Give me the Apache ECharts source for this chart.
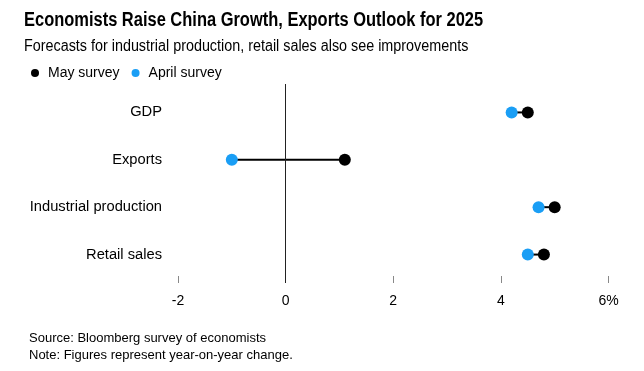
<!DOCTYPE html>
<html>
<head>
<meta charset="utf-8">
<script src="https://cdn.jsdelivr.net/npm/echarts@6/dist/echarts.min.js"></script>
<style>html,body{margin:0;padding:0;background:#fff}#c{width:644px;height:371px}</style>
</head>
<body>
<div id="c"></div>
<script>
const categories = ['GDP', 'Exports', 'Industrial production', 'Retail sales'];
const maySurvey = [4.5, 1.1, 5.0, 4.8];
const aprilSurvey = [4.2, -1.0, 4.7, 4.5];
const xTickValues = [-2, 0, 2, 4, 6];
const titleText = 'Economists Raise China Growth, Exports Outlook for 2025';
const subtitleText = 'Forecasts for industrial production, retail sales also see improvements';
const footerLines = ['Source: Bloomberg survey of economists', 'Note: Figures represent year-on-year change.'];

const FONT = 'Liberation Sans, Arial, sans-serif';
const chart = echarts.init(document.getElementById('c'), null, {renderer: 'canvas'});
chart.setOption({
  animation: false,
  textStyle: {fontFamily: FONT},
  graphic: [
    {type: 'text', x: 24, y: 10, scaleX: 0.823, silent: true,
     style: {text: titleText, fill: '#000', fontSize: 20, fontWeight: 'bold',
             fontFamily: FONT, verticalAlign: 'top', align: 'left'}},
    {type: 'text', x: 24, y: 38.5, scaleX: 0.897, silent: true,
     style: {text: subtitleText, fill: '#000', fontSize: 16, fontWeight: 'normal',
             fontFamily: FONT, verticalAlign: 'top', align: 'left'}}
  ],
  title: [
    {text: footerLines.join('\n'), left: 29, top: 330, padding: 0,
     textStyle: {fontSize: 13, fontWeight: 'normal', color: '#000', lineHeight: 17, fontFamily: FONT}}
  ],
  legend: {
    left: 31, top: 66, padding: 0, itemGap: 12,
    icon: 'circle', itemWidth: 14, itemHeight: 8,
    textStyle: {fontSize: 14, color: '#000', fontFamily: FONT, padding: [0, 0, 0, 1]},
    data: ['May survey', 'April survey'],
    selectedMode: false
  },
  grid: {left: 178, right: 35.5, top: 84, bottom: 88, containLabel: false},
  xAxis: {
    type: 'value', min: -2, max: 6, interval: 2,
    axisLine: {show: false, onZero: false},
    axisTick: {show: true, inside: true, length: 7, lineStyle: {color: '#888', width: 1},
               customValues: xTickValues},
    splitLine: {show: false},
    axisLabel: {color: '#000', fontSize: 14, margin: 11, customValues: xTickValues,
                formatter: v => v === 6 ? '6%' : String(v)}
  },
  yAxis: {
    type: 'value', inverse: true, min: -0.6, max: 3.6,
    axisLine: {show: false, onZero: false}, axisTick: {show: false}, splitLine: {show: false},
    axisLabel: {color: '#000', fontSize: 14.7, margin: 16,
                customValues: categories.map((c, i) => i),
                formatter: v => categories[v]}
  },
  series: [
    {
      type: 'custom', name: 'connector', silent: true,
      data: categories.map((c, i) => [aprilSurvey[i], maySurvey[i], i]),
      encode: {x: [0, 1], y: 2},
      renderItem: function (params, api) {
        const a = api.coord([api.value(0), api.value(2)]);
        const b = api.coord([api.value(1), api.value(2)]);
        return {type: 'line', shape: {x1: a[0], y1: a[1], x2: b[0], y2: b[1]},
                style: {stroke: '#000', lineWidth: 2}};
      },
      markLine: {
        silent: true, symbol: 'none', label: {show: false},
        lineStyle: {color: '#222', width: 1, type: 'solid'},
        data: [{xAxis: 0}]
      },
      z: 1
    },
    {
      type: 'scatter', name: 'April survey', symbol: 'circle', symbolSize: 12,
      itemStyle: {color: '#1a9ef5', opacity: 1},
      data: categories.map((c, i) => [aprilSurvey[i], i]), z: 3
    },
    {
      type: 'scatter', name: 'May survey', symbol: 'circle', symbolSize: 12,
      itemStyle: {color: '#000', opacity: 1},
      data: categories.map((c, i) => [maySurvey[i], i]), z: 4
    }
  ]
});
</script>
</body>
</html>
